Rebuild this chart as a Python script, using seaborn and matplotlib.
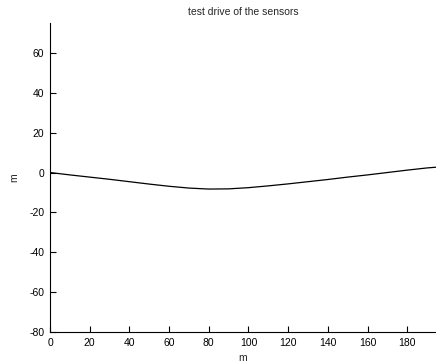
import matplotlib
matplotlib.use("Agg")
import matplotlib.pyplot as plt
import seaborn as sns
import pandas as pd

x_m = [0, 10, 20, 30, 40, 50, 60, 70, 80, 90, 100, 110, 120, 130, 140, 150, 160, 170, 180, 190, 195]
y_m = [0, -1.2, -2.3, -3.4, -4.6, -5.8, -6.9, -7.8, -8.3, -8.2, -7.6, -6.7, -5.7, -4.6, -3.5, -2.3, -1.2, 0.0, 1.2, 2.3, 2.7]
x_ticks = [0, 20, 40, 60, 80, 100, 120, 140, 160, 180]
y_ticks = [-80, -60, -40, -20, 0, 20, 40, 60]

sns.set_style("white")
plt.rcParams['font.family'] = ['Liberation Sans', 'DejaVu Sans']
plt.rcParams['axes.unicode_minus'] = False

df = pd.DataFrame({"x": x_m, "y": y_m})
fig = plt.figure(figsize=(4.36, 3.63), dpi=100)
ax = fig.add_axes([50/436, 31/363, 386/436, 309/363])
sns.lineplot(data=df, x="x", y="y", ax=ax, color="black", linewidth=0.9, estimator=None, sort=False)

ax.set_xlim(0, 194.5)
ax.set_ylim(-80, 75)
ax.set_xticks(x_ticks)
ax.set_yticks(y_ticks)
ax.tick_params(direction="in", length=4, width=0.8, labelsize=7.5, colors="black", pad=4,
               bottom=True, left=True)
for s in ["top", "right"]:
    ax.spines[s].set_visible(False)
for s in ["left", "bottom"]:
    ax.spines[s].set_color("black")
    ax.spines[s].set_linewidth(0.8)
ax.set_xlabel("m", fontsize=7.5, labelpad=4)
ax.set_ylabel("m", fontsize=7.5, labelpad=7)
ax.set_title("test drive of the sensors", fontsize=7.5, pad=6)
fig.savefig("out.png", dpi=100)
